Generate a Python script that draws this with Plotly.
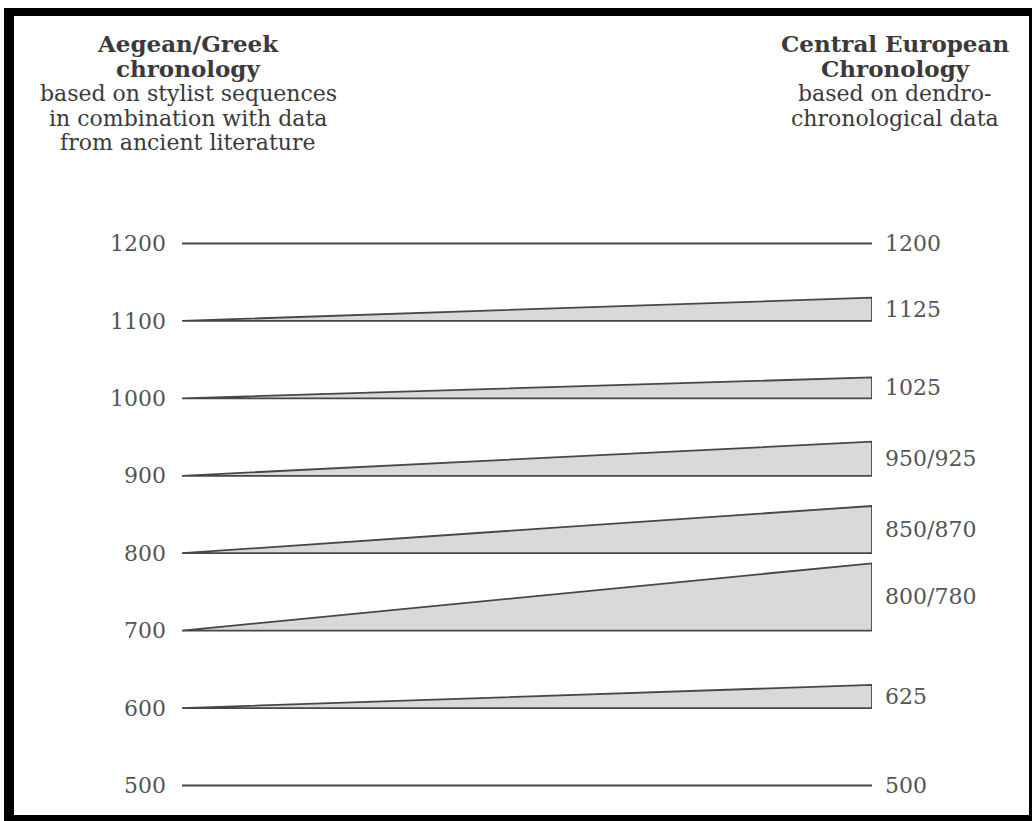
import plotly.graph_objects as go

# Data
left_years = [1100, 1000, 900, 800, 700, 600]
right_top = [1130, 1027, 944, 861, 787, 630]
right_labels = ["1125", "1025", "950/925", "850/870", "800/780", "625"]
line_years = [1200, 500]
line_labels = ["1200", "500"]
tick_vals = [1200, 1100, 1000, 900, 800, 700, 600, 500]
tick_text = ["1200", "1100", "1000", "900", "800", "700", "600", "500"]

W, H = 1032, 821
ML, MR, MT, MB = 182, 1032 - 872, 228, 20
PW, PH = W - ML - MR, H - MT - MB

def px(x):  # page pixel -> paper x
    return (x - ML) / PW

def py(y):  # page pixel -> paper y
    return (H - MB - y) / PH

FONT = "DejaVu Serif"
LINE = "#474747"
FILL = "#d9d9d9"
TXT = "#555555"

fig = go.Figure()

for ly in line_years:
    fig.add_trace(go.Scatter(x=[0, 1], y=[ly, ly], mode="lines",
                             line=dict(color=LINE, width=1.8),
                             hoverinfo="skip", showlegend=False))

for l, r in zip(left_years, right_top):
    fig.add_trace(go.Scatter(x=[0, 1, 1, 0], y=[l, r, l, l], mode="lines",
                             fill="toself", fillcolor=FILL,
                             line=dict(color=LINE, width=1.8),
                             hoverinfo="skip", showlegend=False))

ann = []
for l, r, t in zip(left_years, right_top, right_labels):
    ann.append(dict(x=1, y=(l + r) / 2, xref="x", yref="y", text=t,
                    showarrow=False, xanchor="left", xshift=11, yanchor="middle",
                    font=dict(family=FONT, size=22, color=TXT)))
for ly, t in zip(line_years, line_labels):
    ann.append(dict(x=1, y=ly, xref="x", yref="y", text=t,
                    showarrow=False, xanchor="left", xshift=11, yanchor="middle",
                    font=dict(family=FONT, size=22, color=TXT)))

# headers
left_head = [("<b>Aegean/Greek</b>", 44, 23), ("<b>chronology</b>", 68, 23),
             ("based on stylist sequences", 93, 22), ("in combination with data", 118, 22),
             ("from ancient literature", 142, 22)]
right_head = [("<b>Central European</b>", 44, 23), ("<b>Chronology</b>", 68, 23),
              ("based on dendro-", 93, 22), ("chronological data", 118, 22)]
for t, yy, s in left_head:
    ann.append(dict(x=px(188), y=py(yy), xref="paper", yref="paper", text=t,
                    showarrow=False, xanchor="center", yanchor="middle",
                    font=dict(family=FONT, size=s, color="#3a3a3a")))
for t, yy, s in right_head:
    ann.append(dict(x=px(895), y=py(yy), xref="paper", yref="paper", text=t,
                    showarrow=False, xanchor="center", yanchor="middle",
                    font=dict(family=FONT, size=s, color="#3a3a3a")))

# frame
shapes = []
for x0, y0, x1, y1 in [(4, 8, 14, 821), (4, 8, 1032, 16), (1029, 8, 1032, 821), (4, 815, 1032, 821)]:
    shapes.append(dict(type="rect", xref="paper", yref="paper",
                       x0=px(x0), x1=px(x1), y0=py(y1), y1=py(y0),
                       fillcolor="black", line=dict(width=0), layer="above"))

fig.update_layout(
    width=W, height=H,
    margin=dict(l=ML, r=MR, t=MT, b=MB),
    paper_bgcolor="white", plot_bgcolor="white",
    xaxis=dict(range=[0, 1], visible=False, fixedrange=True),
    yaxis=dict(range=[480, 1220], tickvals=tick_vals, ticktext=tick_text,
               showgrid=False, zeroline=False, showline=False, fixedrange=True,
               ticks="", ticklabelstandoff=15,
               tickfont=dict(family=FONT, size=22, color=TXT)),
    annotations=ann, shapes=shapes,
)

fig.write_html("out.html", config={"displayModeBar": False},
               post_script="document.body.style.margin='0';document.body.style.overflow='hidden';")
